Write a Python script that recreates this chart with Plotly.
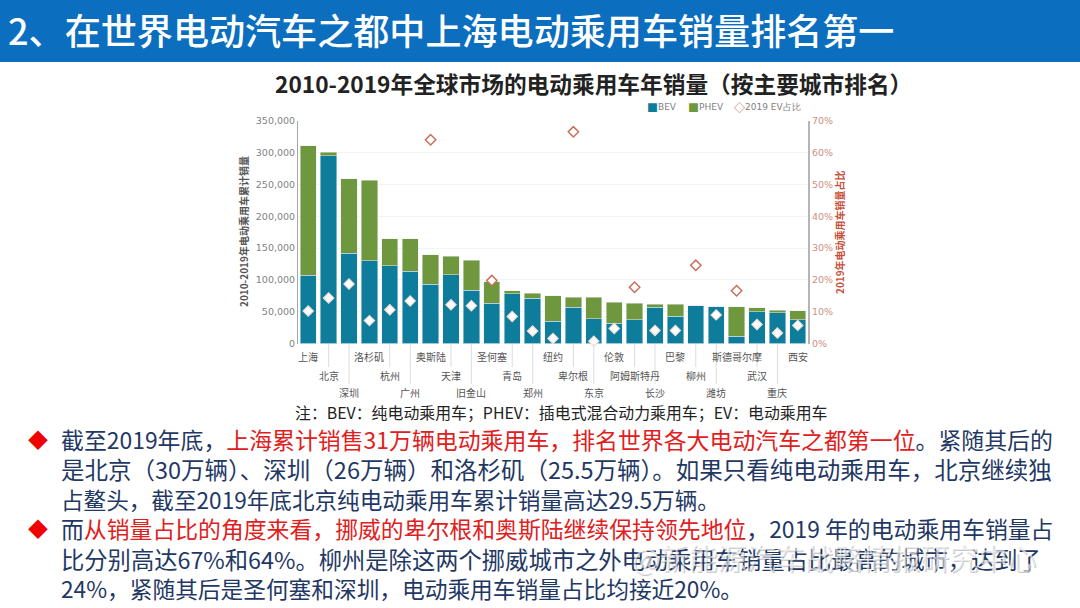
import plotly.graph_objects as go

cities = ["上海","北京","深圳","洛杉矶","杭州","广州","奥斯陆","天津","旧金山","圣何塞","青岛","郑州","纽约",
          "卑尔根","东京","伦敦","阿姆斯特丹","长沙","巴黎","柳州","潍坊","斯德哥尔摩","武汉","重庆","西安"]
bev = [107000,295000,142000,130000,122000,114000,93000,108000,84000,63000,78000,71000,35000,
       57000,39000,31500,37000,57000,43000,59000,58000,11500,50000,48000,37000]
phev = [204000,6000,117000,127000,43000,51000,47000,29000,47000,34000,5000,8000,40000,
        16000,34000,33500,26000,5000,19000,0,0,46500,6000,4500,14500]
share = [10.2,14.3,18.7,7.2,10.6,13.4,64.1,12.2,11.9,19.8,8.5,3.9,1.6,
         66.6,0.7,4.7,17.7,4.1,4.1,24.6,9.0,16.6,6.0,3.3,5.7]
header_text = "2、在世界电动汽车之都中上海电动乘用车销量排名第一"
chart_title = "2010-2019年全球市场的电动乘用车年销量（按主要城市排名）"
note_text = "注：BEV：纯电动乘用车；PHEV：插电式混合动力乘用车；EV：电动乘用车"
red = "<span style='color:#E0201C'>{}</span>"
para_lines = [
    "截至2019年底，" + red.format("上海累计销售31万辆电动乘用车，排名世界各大电动汽车之都第一位") + "。紧随其后的",
    "是北京（30万辆）、深圳（26万辆）和洛杉矶（25.5万辆）。如果只看纯电动乘用车，北京继续独",
    "占鳌头，截至2019年底北京纯电动乘用车累计销量高达29.5万辆。",
    "而" + red.format("从销量占比的角度来看，挪威的卑尔根和奥斯陆继续保持领先地位") + "，2019 年的电动乘用车销量占",
    "比分别高达67%和64%。柳州是除这两个挪威城市之外电动乘用车销量占比最高的城市，达到了",
    "24%，紧随其后是圣何塞和深圳，电动乘用车销量占比均接近20%。",
]
watermark = "@新能源汽车战略情报研究中心"

W, H = 1080, 608
CJK = "Noto Sans CJK SC"
TICK = "DejaVu Sans"
def py(y):
    return 1 - y / H

fig = go.Figure()
fig.add_bar(x=cities, y=bev, name="BEV", marker_color="#0E7D9C", width=0.8, showlegend=False)
fig.add_bar(x=cities, y=phev, name="PHEV", marker_color="#6F973D", width=0.8, showlegend=False)
totals = [a + b for a, b in zip(bev, phev)]
above = [s if s / 70 * 350000 >= t * 0.97 else None for s, t in zip(share, totals)]
inside = [None if s / 70 * 350000 >= t * 0.97 else s for s, t in zip(share, totals)]
fig.add_scatter(x=cities, y=above, name="2019 EV占比", mode="markers", yaxis="y2", cliponaxis=False, showlegend=False,
                marker=dict(symbol="diamond", size=8, color="white", line=dict(color="#C9705A", width=1.5)))
fig.add_scatter(x=cities, y=inside, name="2019 EV占比", mode="markers", yaxis="y2", showlegend=False, cliponaxis=False,
                marker=dict(symbol="diamond", size=8, color="white", line=dict(color="#F6DDD4", width=1.1)))

ann = []
shapes = [dict(type="rect", xref="paper", yref="paper", x0=0, x1=1, y0=py(62), y1=1,
               fillcolor="#0B6EBE", line_width=0, layer="below")]
ann.append(dict(text=header_text, x=6/W, y=py(29), font=dict(size=36.1, color="white", family=CJK, weight=500), xanchor="left"))
ann.append(dict(text=chart_title, x=587/W, y=py(83), xshift=6, font=dict(size=22.7, color="#222222", family=CJK, weight=700)))
ann.append(dict(text=note_text, x=561/W, y=py(412), font=dict(size=15.9, color="#222222", family=CJK)))

legend_items = [("■", "#0E7D9C", "BEV", 645), ("■", "#6F973D", "PHEV", 686), ("◇", "#C8503A", "2019 EV占比", 732)]
for g, col, name, lx in legend_items:
    ann.append(dict(text=g, x=lx/W, y=py(107), font=dict(size=11, color=col, family=CJK), xanchor="left"))
    ann.append(dict(text=name, x=(lx + 11)/W, y=py(107), font=dict(size=9, color="#7F7F7F", family=TICK), xanchor="left"))

rows = [356, 375, 392]
for i, c in enumerate(cities):
    r = i % 3
    ann.append(dict(text=c, x=c, xref="x", y=py(rows[r]), font=dict(size=10, color="#555555", family=CJK)))
    if r:
        shapes.append(dict(type="line", xref="x", yref="paper", x0=c, x1=c, y0=py(344), y1=py(rows[r] - 8),
                           line=dict(color="#DDDDDD", width=1)))

line_y = [439, 469, 499, 528, 559, 588]
line_size = [22.9, 23.5, 22.6, 22.85, 23.3, 22.7]
for t, y, s in zip(para_lines, line_y, line_size):
    ann.append(dict(text=t, x=59/W, y=py(y), xanchor="left", font=dict(size=s, color="#1F3864", family=CJK)))
for y in (line_y[0], line_y[3]):
    ann.append(dict(text="◆", x=38/W, y=py(y), font=dict(size=20, color="#F00000", family=CJK)))
ann.append(dict(text=watermark, x=630/W, y=py(557), xanchor="left", xshift=1, yshift=-1, font=dict(size=29, color="rgba(120,120,120,0.4)", family=CJK)))
ann.append(dict(text=watermark, x=630/W, y=py(557), xanchor="left", font=dict(size=29, color="rgba(255,255,255,0.6)", family=CJK)))
ann.append(dict(text="2010-2019年电动乘用车累计销量", x=244/W, y=py(232), textangle=-90,
                font=dict(size=10, color="#555555", family=CJK, weight=700)))
ann.append(dict(text="2019年电动乘用车销量占比", x=840/W, y=py(232), textangle=-90,
                font=dict(size=10, color="#C8503A", family=CJK, weight=700)))
for a in ann:
    a.setdefault("xref", "paper")
    a.setdefault("yref", "paper")
    a.setdefault("showarrow", False)
    a.setdefault("yanchor", "middle")
    a.setdefault("xanchor", "center")

fig.update_layout(
    width=W, height=H, margin=dict(l=0, r=0, t=0, b=0, autoexpand=False), autosize=False,
    paper_bgcolor="white", plot_bgcolor="white", barmode="stack", bargap=0.2,
    annotations=ann, shapes=shapes, showlegend=False,
    font=dict(family=TICK),
    xaxis=dict(domain=[298/W, 808/W], type="category", range=[-0.5, 24.5], showticklabels=False, showgrid=False,
               ticks="", zeroline=False, showline=False, anchor="y"),
    yaxis=dict(domain=[py(343.5), py(121)], range=[0, 350000], tick0=0, dtick=50000,
               tickformat=",", showgrid=True, gridcolor="#F3F3F3", gridwidth=1, zeroline=False,
               showline=True, linecolor="#A6A6A6", linewidth=1, ticks="",
               tickfont=dict(size=9.5, color="#7F7F7F", family=TICK), anchor="x"),
    yaxis2=dict(domain=[py(343.5), py(121)], overlaying="y", side="right", range=[0, 70], tick0=0, dtick=10,
                ticksuffix="%", showgrid=False, zeroline=False,
                showline=True, linecolor="#B5B5B5", linewidth=2, ticks="",
                tickfont=dict(size=9.5, color="#CF8E7E", family=TICK), anchor="x"),
)
fig.write_html("out.html", config={"displayModeBar": False},
               post_script="document.body.style.margin='0';document.body.style.overflow='hidden';")
